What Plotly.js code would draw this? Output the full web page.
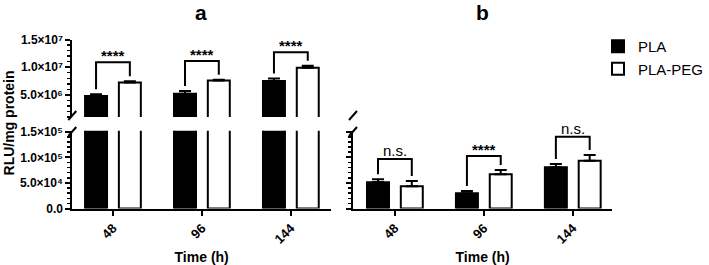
<!DOCTYPE html>
<html>
<head>
<meta charset="utf-8">
<script src="https://cdn.plot.ly/plotly-3.0.1.min.js"></script>
<style>html,body{margin:0;padding:0;background:#fff;}#chart{width:709px;height:265px;}</style>
</head>
<body>
<div id="chart"></div>
<script>
// ---- data ----
const categories = ['48', '96', '144'];
const seriesNames = ['PLA', 'PLA-PEG'];
// panel a (RLU/mg protein)
const plaA = [4.8e6, 5.2e6, 7.5e6];
const plaAErr = [0.3e6, 0.5e6, 0.45e6];
const pegA = [7.25e6, 7.6e6, 9.9e6];
const pegAErr = [0.2e6, 0.15e6, 0.35e6];
// panel b
const plaB = [51200, 29700, 80500];
const plaBErr = [5900, 4500, 6400];
const pegB = [43400, 66800, 93400];
const pegBErr = [10300, 8400, 11000];
// significance labels and bracket heights
const sigA = ['****', '****', '****'];
const bracketA = [1.088e7, 1.112e7, 1.269e7];
const sigB = ['n.s.', '****', 'n.s.'];
const bracketB = [96700, 102500, 140000];
// axis ticks
const upperTickVals = [5e6, 1e7, 1.5e7];
const upperTickText = ['5.0×10⁶', '1.0×10⁷', '1.5×10⁷'];
const lowerTickVals = [0, 5e4, 1e5, 1.5e5];
const lowerTickText = ['0.0', '5.0×10⁴', '1.0×10⁵', '1.5×10⁵'];

// ---- layout helpers ----
const W = 709, H = 265;
const px = x => x / W;
const py = y => 1 - y / H;
const FONT = 'Liberation Sans, Arial, Helvetica, sans-serif';
const xIdx = categories.map((c, i) => i);

const upperRange = [1e6, 1.5e7];
const lowerRange = [0, 1.52e5];
const upperDom = [py(117), py(39.5)];
const lowerDom = [py(208.5), py(130.7)];
const upperPxPerUnit = (117 - 39.5) / (upperRange[1] - upperRange[0]);
const lowerPxPerUnit = (208.5 - 130.7) / (lowerRange[1] - lowerRange[0]);

const bargap = 0.24, bargroupgap = 0.35;
const barOffset = (1 - bargap) / 4;

function barTrace(name, x, y, err, xa, ya, fill, showlegend) {
  return {
    type: 'bar', name: name, x: x, y: y, xaxis: xa, yaxis: ya,
    legendgroup: name, showlegend: showlegend,
    marker: {color: fill, line: {color: '#000', width: 2}},
    error_y: {type: 'data', symmetric: false, array: err, arrayminus: err.map(() => 0),
              color: '#000', thickness: 2, width: 6},
    hoverinfo: 'skip'
  };
}

const data = [
  barTrace(seriesNames[0], xIdx, plaA, plaAErr, 'x', 'y2', '#000', true),
  barTrace(seriesNames[1], xIdx, pegA, pegAErr, 'x', 'y2', '#fff', true),
  barTrace(seriesNames[0], xIdx, plaA, plaAErr, 'x', 'y', '#000', false),
  barTrace(seriesNames[1], xIdx, pegA, pegAErr, 'x', 'y', '#fff', false),
  barTrace(seriesNames[0], xIdx, plaB, plaBErr, 'x2', 'y3', '#000', false),
  barTrace(seriesNames[1], xIdx, pegB, pegBErr, 'x2', 'y3', '#fff', false)
];

function yAxis(dom, range, tv, tt, anchor, labels, dtick) {
  return {
    domain: dom, range: range, anchor: anchor, fixedrange: true,
    showline: true, linecolor: '#000', linewidth: 2, mirror: false,
    showgrid: false, zeroline: false,
    ticks: 'outside', ticklen: 5, tickwidth: 2, tickcolor: '#000',
    tickmode: 'array', tickvals: tv, ticktext: tt,
    showticklabels: labels,
    tickfont: {family: FONT, size: 12, color: '#000', weight: 'bold'},
    minor: {tickmode: 'linear', tick0: 0, dtick: dtick, ticks: 'outside', ticklen: 3,
            tickwidth: 1.5, tickcolor: '#000', showgrid: false}
  };
}
function xAxis(dom, range, anchor) {
  return {
    domain: dom, range: range, anchor: anchor, fixedrange: true,
    showline: true, linecolor: '#000', linewidth: 2,
    showgrid: false, zeroline: false,
    ticks: 'outside', ticklen: 5, tickwidth: 2, tickcolor: '#000',
    tickmode: 'array', tickvals: xIdx, ticktext: categories, tickangle: -45,
    tickfont: {family: FONT, size: 13, color: '#000', weight: 'bold'},
    title: {text: 'Time (h)', font: {family: FONT, size: 14, color: '#000', weight: 'bold'}}
  };
}

// brackets and labels (computed from values + error caps)
const shapes = [];
const annotations = [];
function brackets(xa, ya, a, aErr, b, bErr, top, labels, pxPerUnit) {
  const gap = 5 / pxPerUnit;
  for (let i = 0; i < categories.length; i++) {
    const xl = i - barOffset, xr = i + barOffset;
    const yl = a[i] + aErr[i] + gap, yr = b[i] + bErr[i] + gap;
    shapes.push({type: 'path', xref: xa, yref: ya,
      path: `M${xl},${yl} L${xl},${top[i]} L${xr},${top[i]} L${xr},${yr}`,
      line: {color: '#000', width: 2}});
    const stars = labels[i] === '****';
    annotations.push({xref: xa, yref: ya, x: i, y: top[i], text: labels[i],
      showarrow: false, xanchor: 'center', yanchor: 'bottom', yshift: stars ? -4 : -2,
      font: {family: FONT, size: 15, color: '#000', weight: stars ? 'bold' : 'normal'}});
  }
}
brackets('x', 'y2', plaA, plaAErr, pegA, pegAErr, bracketA, sigA, upperPxPerUnit);
brackets('x2', 'y3', plaB, plaBErr, pegB, pegBErr, bracketB, sigB, lowerPxPerUnit);

// axis break marks
[72.5, 354].forEach(ax => {
  shapes.push({type: 'line', xref: 'paper', yref: 'paper',
    x0: px(ax - 4), y0: py(120), x1: px(ax + 4), y1: py(111), line: {color: '#000', width: 2}});
  shapes.push({type: 'line', xref: 'paper', yref: 'paper',
    x0: px(ax - 4), y0: py(136), x1: px(ax + 4), y1: py(127), line: {color: '#000', width: 2}});
});

annotations.push({xref: 'paper', yref: 'paper', x: px(9), y: py(122.5), text: 'RLU/mg protein',
  textangle: -90, showarrow: false, xanchor: 'center', yanchor: 'middle',
  font: {family: FONT, size: 14, color: '#000', weight: 'bold'}});
annotations.push({xref: 'paper', yref: 'paper', x: px(202), y: py(13), text: 'a',
  showarrow: false, xanchor: 'center', yanchor: 'middle',
  font: {family: FONT, size: 21, color: '#000', weight: 'bold'}});
annotations.push({xref: 'paper', yref: 'paper', x: px(484), y: py(13), text: 'b',
  showarrow: false, xanchor: 'center', yanchor: 'middle',
  font: {family: FONT, size: 21, color: '#000', weight: 'bold'}});

const layout = {
  width: W, height: H,
  margin: {l: 0, r: 0, t: 0, b: 0},
  paper_bgcolor: '#fff', plot_bgcolor: 'rgba(0,0,0,0)',
  barmode: 'group', bargap: bargap, bargroupgap: bargroupgap,
  showlegend: true,
  legend: {x: px(600), y: py(30), xanchor: 'left', yanchor: 'top',
           font: {family: FONT, size: 15, color: '#000'}, bgcolor: 'rgba(0,0,0,0)',
           tracegroupgap: 0},
  xaxis: xAxis([px(72.5), px(332)], [-0.457, 2.452], 'y'),
  yaxis: yAxis(lowerDom, lowerRange, lowerTickVals, lowerTickText, 'x', true, 1e4),
  yaxis2: yAxis(upperDom, upperRange, upperTickVals, upperTickText, 'x', true, 1e6),
  xaxis2: xAxis([px(354), px(614)], [-0.471, 2.444], 'y3'),
  yaxis3: yAxis(lowerDom, lowerRange, lowerTickVals, lowerTickText, 'x2', false, 1e4),
  yaxis4: yAxis(upperDom, upperRange, upperTickVals, upperTickText, 'x2', false, 1e6),
  shapes: shapes,
  annotations: annotations
};

Plotly.newPlot('chart', data, layout, {staticPlot: true, displayModeBar: false});
</script>
</body>
</html>
